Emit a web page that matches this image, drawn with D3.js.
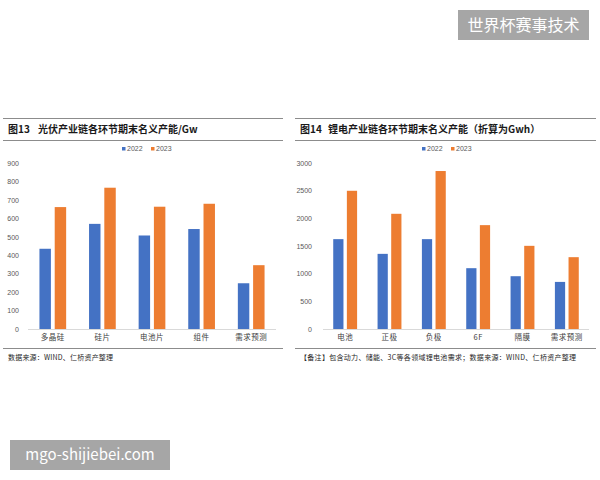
<!DOCTYPE html>
<html>
<head>
<meta charset="utf-8">
<script src="https://cdn.jsdelivr.net/npm/d3@7"></script>
<style>
  html, body { margin: 0; padding: 0; background: #fff; }
  svg { display: block; }
</style>
</head>
<body>
<div id="chart"></div>
<script>
// ---- data ----
var seriesNames = ["2022", "2023"];
var seriesColors = ["#4472C4", "#ED7D31"];

var pvCategories = ["多晶硅", "硅片", "电池片", "组件", "需求预测"];
var pv2022 = [435, 570, 507, 542, 248];
var pv2023 = [661, 766, 663, 679, 346];
var pvTicks = [0, 100, 200, 300, 400, 500, 600, 700, 800, 900];

var liCategories = ["电池", "正极", "负极", "6F", "隔膜", "需求预测"];
var li2022 = [1624, 1358, 1624, 1099, 954, 851];
var li2023 = [2498, 2082, 2855, 1877, 1503, 1298];
var liTicks = [0, 500, 1000, 1500, 2000, 2500, 3000];

var svg = d3.select("#chart").append("svg")
    .attr("width", 600)
    .attr("height", 480);

var cjk = "'Noto Sans CJK SC', 'Noto Sans', sans-serif";
var latin = "'Liberation Sans', Arial, sans-serif";

function drawPanel(opt) {
    var g = svg.append("g");

    // header rules + title
    [118.5, 140.5].forEach(function (yy) {
        g.append("line").attr("x1", opt.x0).attr("x2", opt.x1).attr("y1", yy).attr("y2", yy)
            .attr("stroke", "#8c8c8c").attr("stroke-width", 1.2);
    });
    g.append("text")
        .attr("x", opt.x0 + 5).attr("y", 133)
        .attr("font-family", cjk).attr("font-weight", "bold")
        .attr("font-size", "10px").attr("fill", "#1a1a1a")
        .text(opt.figNo);
    g.append("text")
        .attr("x", opt.titleX).attr("y", 133)
        .attr("font-family", cjk).attr("font-weight", "bold")
        .attr("font-size", "10px").attr("fill", "#1a1a1a")
        .text(opt.title);

    // scales
    var x = d3.scaleBand().domain(opt.categories).range(opt.xRange).paddingInner(0).paddingOuter(0);
    var xs = d3.scaleBand().domain(seriesNames).range([0, x.bandwidth()]).paddingInner(0.25).paddingOuter(0.75);
    var y = d3.scaleLinear().domain([0, opt.yMax]).range([329, 163]);

    // y axis
    var ya = g.append("g")
        .attr("transform", "translate(" + opt.xRange[0] + ",0)")
        .call(d3.axisLeft(y).tickValues(opt.ticks).tickFormat(d3.format("d"))
            .tickSize(0).tickPadding(opt.tickPad));
    ya.select(".domain").remove();
    ya.selectAll("text").attr("font-family", latin)
        .attr("font-size", "7px").attr("fill", "#595959");

    // bars
    var rows = opt.categories.map(function (c, i) {
        return { cat: c, vals: [opt.s1[i], opt.s2[i]] };
    });
    var grp = g.selectAll(".cat").data(rows).enter().append("g")
        .attr("transform", function (d) { return "translate(" + x(d.cat) + ",0)"; });
    grp.selectAll("rect").data(function (d) {
        return d.vals.map(function (v, k) { return { k: k, v: v }; });
    }).enter().append("rect")
        .attr("x", function (d) { return xs(seriesNames[d.k]); })
        .attr("width", xs.bandwidth())
        .attr("y", function (d) { return y(d.v); })
        .attr("height", function (d) { return y(0) - y(d.v); })
        .attr("fill", function (d) { return seriesColors[d.k]; });

    // baseline
    g.append("line").attr("x1", opt.xRange[0]).attr("x2", opt.xRange[1])
        .attr("y1", 329.5).attr("y2", 329.5).attr("stroke", "#d9d9d9");

    // x axis labels
    var xa = g.append("g")
        .attr("transform", "translate(0,329)")
        .call(d3.axisBottom(x).tickSize(0).tickPadding(6));
    xa.select(".domain").remove();
    xa.selectAll("text").attr("font-family", cjk)
        .attr("font-size", "7.5px").attr("letter-spacing", "0.5px").attr("fill", "#404040");

    // legend
    var lg = g.append("g").attr("transform", "translate(" + opt.legendX + ",151)");
    seriesNames.forEach(function (s, k) {
        lg.append("rect").attr("x", k * 29).attr("y", -4).attr("width", 3.5).attr("height", 3.5)
            .attr("fill", seriesColors[k]);
        lg.append("text").attr("x", k * 29 + 5).attr("y", 0)
            .attr("font-family", latin)
            .attr("font-size", "7px").attr("fill", "#595959").text(s);
    });

    // footer
    g.append("line").attr("x1", opt.x0).attr("x2", opt.x1).attr("y1", 348.5).attr("y2", 348.5)
        .attr("stroke", "#8c8c8c").attr("stroke-width", 1.2);
    g.append("text")
        .attr("x", opt.x0 + 5).attr("y", 360)
        .attr("font-family", cjk).attr("font-size", "7px")
        .attr("letter-spacing", opt.noteSpacing).attr("fill", "#262626")
        .text(opt.note);
}

drawPanel({
    x0: 3, x1: 283,
    figNo: "图13", titleX: 38,
    title: "光伏产业链各环节期末名义产能/Gw",
    categories: pvCategories, s1: pv2022, s2: pv2023,
    yMax: 900, ticks: pvTicks, tickPad: 9,
    xRange: [28, 276], legendX: 122,
    note: "数据来源：WIND、仁桥资产整理", noteSpacing: "0.2px"
});

drawPanel({
    x0: 295, x1: 596,
    figNo: "图14", titleX: 328,
    title: "锂电产业链各环节期末名义产能（折算为Gwh）",
    categories: liCategories, s1: li2022, s2: li2023,
    yMax: 3000, ticks: liTicks, tickPad: 11,
    xRange: [323, 589], legendX: 422,
    note: "【备注】包含动力、储能、3C等各领域锂电池需求；数据来源：WIND、仁桥资产整理", noteSpacing: "0.3px"
});

// watermarks
function badge(x, y, w, h, label, size) {
    svg.append("rect").attr("x", x).attr("y", y).attr("width", w).attr("height", h)
        .attr("fill", "#a6a6a6");
    svg.append("text").attr("x", x + w / 2).attr("y", y + h / 2 + size * 0.36)
        .attr("text-anchor", "middle").attr("font-family", cjk)
        .attr("font-size", size + "px").attr("fill", "#fff").text(label);
}
badge(458, 10, 131, 30, "世界杯赛事技术", 16);
badge(10, 440, 160, 30, "mgo-shijiebei.com", 15);
</script>
</body>
</html>
